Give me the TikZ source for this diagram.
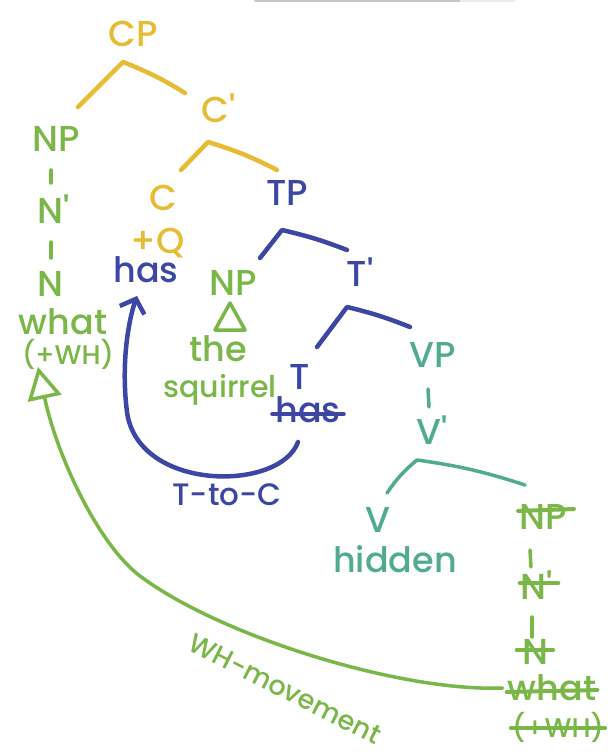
\documentclass[tikz,border=0pt]{standalone}
\usepackage{fontspec}
\setmainfont{Poppins}[UprightFont={* Medium}]
\usetikzlibrary{arrows.meta}
\definecolor{cyel}{RGB}{229,188,52}
\definecolor{cgrn}{RGB}{122,182,72}
\definecolor{cblu}{RGB}{60,70,165}
\definecolor{ctea}{RGB}{82,170,145}
\tikzset{
  lab/.style={inner sep=1pt, font=\fontsize{36}{40}\selectfont},
  wrd/.style={inner sep=1pt, font=\fontsize{35}{39}\selectfont},
  wrds/.style={inner sep=1pt, font=\fontsize{30}{34}\selectfont},
  sml/.style={inner sep=1pt, font=\fontsize{27}{30}\selectfont},
  br/.style={line width=4.5pt, line cap=round, line join=round},
  thin/.style={line width=3.5pt, line cap=round, line join=round},
  strike/.style={line width=4pt, line cap=round},
}
\begin{document}
\begin{tikzpicture}[x=1pt,y=-1pt]
\useasboundingbox[fill=white] (0,0) rectangle (610,754);
% faint screen artefact at the top
\draw[gray!45, line width=2pt, line cap=round] (255,1) -- (460,1);
\draw[gray!15, line width=2pt] (460,1) -- (515,1);

% ---------- nodes ----------
\node[lab, cyel] (cp) at (133,34) {CP};
\node[lab, cyel] (cbar) at (219,108) {C\textquotesingle};
\node[lab, cyel] (c) at (163,198) {C};
\node[lab, cyel] (q) at (158,243) {+Q};
\node[wrd, cblu] (has) at (146,270) {has};

\node[lab, cgrn] (np1) at (56,139) {NP};
\node[lab, cgrn] (nb1) at (54,209) {N\textquotesingle};
\node[lab, cgrn] (n1) at (50,284) {N};
\node[wrd, cgrn] (what) at (63,322) {what};
\node[sml, cgrn] (wh) at (68,354) {(+WH)};

\node[lab, cblu] (tp) at (287,193) {TP};
\node[lab, cgrn] (np2) at (233,283) {NP};
\node[wrd, cgrn] (the) at (218,349) {the};
\node[wrds, cgrn] (sq) at (220,390) {squirrel};
\node[lab, cblu] (tbar) at (360,272) {T\textquotesingle};
\node[lab, cblu] (t) at (300,377) {T};
\node[wrd, cblu] (hasT) at (308,410) {has};

\node[lab, ctea] (vp) at (433,355) {VP};
\node[lab, ctea] (vbar) at (432,430) {V\textquotesingle};
\node[lab, ctea] (v) at (378,520) {V};
\node[wrd, ctea] (hidden) at (395,559) {hidden};

\node[lab, cgrn] (npS) at (543,517) {NP};
\node[lab, cgrn] (nbS) at (537,585) {N\textquotesingle};
\node[lab, cgrn] (nS) at (535,652) {N};
\node[wrd, cgrn] (whatS) at (552,688) {what};
\node[sml, cgrn] (whS) at (558,727) {(+WH)};

\node[lab, cblu, font=\fontsize{31}{35}\selectfont] (ttoc) at (227,495) {T-to-C};
\node[lab, cgrn, font=\fontsize{27}{31}\selectfont, rotate=-27] (whm) at (285,689) {WH-movement};

% ---------- branch coordinates ----------
\coordinate (cpL) at (78,107);  \coordinate (cpA) at (123,62);  \coordinate (cpR) at (185,93);
\coordinate (cbL) at (181,170); \coordinate (cbA) at (208,142); \coordinate (cbR) at (277,170);
\coordinate (tpL) at (260,258); \coordinate (tpA) at (282,230); \coordinate (tpR) at (347,250);
\coordinate (tbL) at (317,347); \coordinate (tbA) at (347,307); \coordinate (tbR) at (410,327);
\coordinate (vbL) at (387,493); \coordinate (vbA) at (417,460); \coordinate (vbR) at (525,485);

\draw[br, cyel] (cpL) -- (cpA) to[bend left=5] (cpR);
\draw[br, cyel] (cbL) -- (cbA) to[bend left=5] (cbR);
\draw[br, cblu] (tpL) -- (tpA) to[bend left=4] (tpR);
\draw[br, cblu] (tbL) -- (tbA) to[bend left=4] (tbR);
\draw[thin, ctea] (vbL) to[bend left=8] (vbA) to[bend left=5] (vbR);

% unary dashes
\coordinate (d1a) at (51,170); \coordinate (d1b) at (51,183);
\coordinate (d2a) at (51,242); \coordinate (d2b) at (51,258);
\coordinate (d3a) at (428,389); \coordinate (d3b) at (429,407);
\coordinate (d4a) at (530,550); \coordinate (d4b) at (531,567);
\coordinate (d5a) at (532,617); \coordinate (d5b) at (532,637);
\draw[thin, cgrn] (d1a) -- (d1b);
\draw[thin, cgrn] (d2a) -- (d2b);
\draw[thin, ctea] (d3a) -- (d3b);
\draw[thin, cgrn] (d4a) -- (d4b);
\draw[thin, cgrn] (d5a) -- (d5b);

% triangle under NP
\coordinate (triT) at (230,303); \coordinate (triR) at (245,330); \coordinate (triL) at (215,330);
\draw[thin, cgrn] (triT) -- (triR) -- (triL) -- cycle;

% strike-throughs
\draw[strike, cblu] ([xshift=-2pt,yshift=-4pt]hasT.west) -- ([xshift=2pt,yshift=-4pt]hasT.east);
\draw[strike, cgrn] ([yshift=6pt]npS.west) -- ([xshift=6pt,yshift=8pt]npS.east);
\draw[strike, cgrn] ([yshift=2pt]nbS.west) -- ([xshift=4pt,yshift=2pt]nbS.east);
\draw[strike, cgrn] ([xshift=-4pt,yshift=2pt]nS.west) -- ([xshift=4pt,yshift=2pt]nS.east);
\draw[strike, cgrn] ([yshift=-4pt]whatS.west) -- ([yshift=-2pt]whatS.east);
\draw[strike, cgrn] ([yshift=-1pt]whS.west) -- ([yshift=-1pt]whS.east);

% T-to-C movement
\coordinate (tcStart) at (298,442);
\coordinate (tcTip) at (137,296);
\draw[br, cblu, -{Straight Barb[length=12pt,width=26pt]}]
  (tcStart) .. controls (280,492) and (138,492) .. (127,412)
  .. controls (121,365) and (128,322) .. (tcTip);

% WH-movement
\coordinate (whTip) at (38,367);
\draw[thin, cgrn, -{Triangle[open,length=32pt,width=34pt,line width=3.5pt]}]
  ([xshift=-4pt]whatS.west) .. controls (400,692) and (220,636) .. (140,576)
  .. controls (100,546) and (58,460) .. (whTip);
\end{tikzpicture}
\end{document}
